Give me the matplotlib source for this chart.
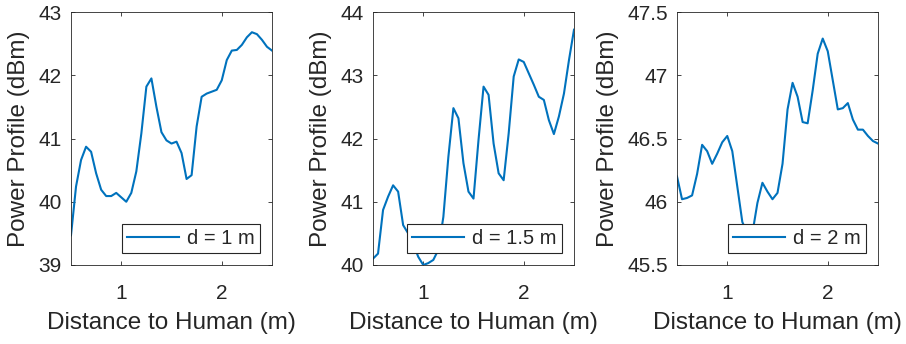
import numpy as np
import matplotlib
matplotlib.use("Agg")
import matplotlib.pyplot as plt

plt.rcParams['font.family'] = ['Liberation Sans', 'DejaVu Sans']

distance = np.round(np.arange(0.5, 2.5001, 0.05), 2)

power_d1 = [39.47, 40.24, 40.66, 40.87, 40.79, 40.45, 40.19, 40.09, 40.09, 40.14,
            40.07, 40.00, 40.14, 40.48, 41.08, 41.82, 41.95, 41.50, 41.10, 40.97,
            40.92, 40.95, 40.77, 40.36, 40.42, 41.19, 41.66, 41.71, 41.74, 41.77,
            41.92, 42.24, 42.39, 42.40, 42.48, 42.60, 42.68, 42.65, 42.56, 42.45,
            42.39]
power_d15 = [40.10, 40.18, 40.87, 41.08, 41.26, 41.16, 40.63, 40.50, 40.34, 40.13,
             40.00, 40.03, 40.08, 40.24, 40.76, 41.71, 42.48, 42.32, 41.61, 41.16,
             41.05, 41.98, 42.82, 42.69, 41.92, 41.45, 41.34, 42.08, 42.98, 43.25,
             43.21, 43.03, 42.85, 42.66, 42.61, 42.29, 42.07, 42.35, 42.71, 43.24,
             43.72]
power_d2 = [46.20, 46.02, 46.03, 46.05, 46.22, 46.45, 46.40, 46.30, 46.38, 46.47,
            46.52, 46.40, 46.12, 45.84, 45.75, 45.75, 45.99, 46.15, 46.08, 46.02,
            46.07, 46.30, 46.73, 46.94, 46.83, 46.63, 46.62, 46.88, 47.17, 47.29,
            47.19, 46.96, 46.73, 46.74, 46.78, 46.65, 46.57, 46.57, 46.52, 46.48,
            46.46]

labels = ['d = 1 m', 'd = 1.5 m', 'd = 2 m']
series = [power_d1, power_d15, power_d2]
ylims = [(39, 43), (40, 44), (45.5, 47.5)]
yticks = [[39, 40, 41, 42, 43], [40, 41, 42, 43, 44], [45.5, 46, 46.5, 47, 47.5]]
yticklabels = [['39', '40', '41', '42', '43'], ['40', '41', '42', '43', '44'],
               ['45.5', '46', '46.5', '47', '47.5']]
xticks = [1, 2]

fig = plt.figure(figsize=(9.06, 3.44), dpi=100)
lefts = [71 / 906, 373 / 906, 677 / 906]
width = 201 / 906
bottom = 1 - 265 / 344
height = (265 - 12) / 344
axcol = (0.15, 0.15, 0.15)

for i in range(3):
    ax = fig.add_axes([lefts[i], bottom, width, height])
    ax.plot(distance, series[i], color='#0072BD', lw=1.5, label=labels[i])
    ax.set_xlim(0.5, 2.5)
    ax.set_ylim(*ylims[i])
    ax.set_xticks(xticks)
    ax.set_yticks(yticks[i])
    ax.set_yticklabels(yticklabels[i])
    ax.tick_params(direction='in', top=True, right=True, labelsize=15,
                   length=3, width=0.6, color=axcol, labelcolor=axcol)
    ax.tick_params(axis='x', pad=14)
    ax.tick_params(axis='y', pad=6.5)
    for sp in ax.spines.values():
        sp.set_color(axcol)
        sp.set_linewidth(0.6)
    ax.set_xlabel('Distance to Human (m)', fontsize=17.5, color=axcol, labelpad=6)
    ax.set_ylabel('Power Profile (dBm)', fontsize=17.5, color=axcol, labelpad=6)
    leg = ax.legend(loc='lower right', fontsize=14.5, fancybox=False, framealpha=1,
                    edgecolor=axcol, borderaxespad=0.6, handlelength=2.6,
                    borderpad=0.25, handletextpad=0.4)
    leg.get_frame().set_linewidth(0.8)
    for t in leg.get_texts():
        t.set_color(axcol)

fig.savefig('out.png', dpi=100)
